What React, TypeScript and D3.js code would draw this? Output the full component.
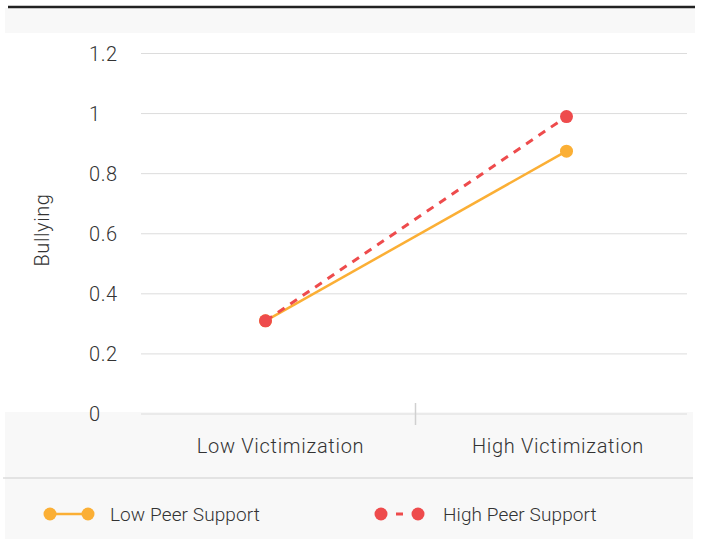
import React from "react";
import * as d3 from "d3";

const categories = ["Low Victimization", "High Victimization"];
const lowPeerSupport = [0.31, 0.875];
const highPeerSupport = [0.31, 0.99];
const yTicks = [0, 0.2, 0.4, 0.6, 0.8, 1, 1.2];
const seriesNames = ["Low Peer Support", "High Peer Support"];
const yLabel = "Bullying";

const ORANGE = "#FBAF35";
const RED = "#EE4B4C";
const FONT = "Roboto, 'Open Sans', sans-serif";
const TEXT = "#333";

export default function App() {
  const W = 704, H = 539;
  const x = d3.scalePoint<string>().domain(categories).range([265.5, 566.5]);
  const xLabel = d3.scalePoint<string>().domain(categories).range([280.5, 558]);
  const y = d3.scaleLinear().domain([0, 1.2]).range([414, 53.5]);
  const line = d3
    .line<number>()
    .x((_, i) => x(categories[i]) as number)
    .y((d) => y(d));

  return (
    <div style={{ position: "absolute", left: 0, top: 0 }}>
      <svg width={W} height={H} style={{ display: "block", fontFamily: FONT }}>
        <rect x={0} y={0} width={W} height={H} fill="#fff" />
        {/* top band */}
        <rect x={5} y={8} width={690} height={25} fill="#f8f8f8" />
        <line x1={8} x2={695} y1={7} y2={7} stroke="#222" strokeWidth={2.5} />
        {/* bottom band */}
        <rect x={5} y={412} width={688} height={127} fill="#f8f8f8" />
        <line x1={3} x2={693} y1={478} y2={478} stroke="#dcdcdc" strokeWidth={1.5} />
        {/* grid */}
        {yTicks.map((t) => (
          <g key={t}>
            <line x1={141} x2={687} y1={y(t)} y2={y(t)} stroke="#dcdcdc" strokeWidth={1} />
            <text x={89} y={y(t)} dy="0.35em" fontSize={20} fontWeight={300} letterSpacing={0.6} fill={TEXT}>
              {t}
            </text>
          </g>
        ))}
        {/* category divider tick */}
        <line x1={415.5} x2={415.5} y1={403} y2={425} stroke="#d0d0d0" strokeWidth={1.5} />
        {categories.map((c) => (
          <text
            key={c}
            x={xLabel(c)}
            y={445.5}
            dy="0.35em"
            textAnchor="middle"
            fontSize={20}
            fontWeight={300}
            letterSpacing={0.7}
            fill={TEXT}
          >
            {c}
          </text>
        ))}
        <text
          transform={`translate(42,${230}) rotate(-90)`}
          textAnchor="middle"
          dy="0.35em"
          fontSize={20}
          fontWeight={300}
          letterSpacing={0.6}
          fill={TEXT}
        >
          {yLabel}
        </text>
        {/* series */}
        <path d={line(lowPeerSupport)!} fill="none" stroke={ORANGE} strokeWidth={2.5} />
        {lowPeerSupport.map((v, i) => (
          <circle key={i} cx={x(categories[i])} cy={y(v)} r={6.5} fill={ORANGE} />
        ))}
        <path
          d={line(highPeerSupport)!}
          fill="none"
          stroke={RED}
          strokeWidth={3}
          strokeDasharray="8,7"
        />
        {highPeerSupport.map((v, i) => (
          <circle key={i} cx={x(categories[i])} cy={y(v)} r={6.5} fill={RED} />
        ))}
        {/* legend */}
        <g>
          <line x1={50} x2={88} y1={514} y2={514} stroke={ORANGE} strokeWidth={2.5} />
          <circle cx={50} cy={514} r={6.5} fill={ORANGE} />
          <circle cx={88} cy={514} r={6.5} fill={ORANGE} />
          <text x={110} y={514} dy="0.35em" fontSize={19} fontWeight={300} letterSpacing={0.1} fill={TEXT}>
            {seriesNames[0]}
          </text>
          <line x1={381} x2={418} y1={514} y2={514} stroke={RED} strokeWidth={3} strokeDasharray="0,15,7,40" />
          <circle cx={381} cy={514} r={6.5} fill={RED} />
          <circle cx={418} cy={514} r={6.5} fill={RED} />
          <text x={443} y={514} dy="0.35em" fontSize={19} fontWeight={300} letterSpacing={0.1} fill={TEXT}>
            {seriesNames[1]}
          </text>
        </g>
      </svg>
    </div>
  );
}
